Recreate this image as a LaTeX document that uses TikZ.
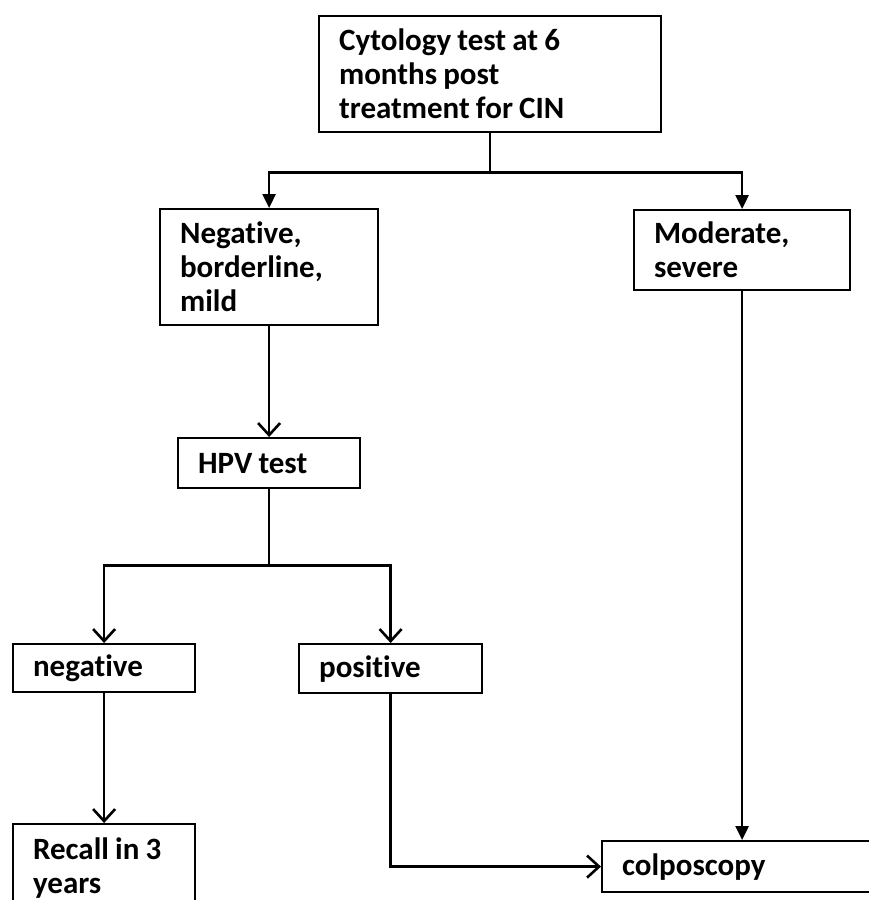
\documentclass[tikz,border=0pt]{standalone}
\usepackage{fontspec}
\setmainfont[Ligatures=NoCommon]{Carlito}
\usetikzlibrary{arrows.meta}

\begin{document}
\begin{tikzpicture}[x=1pt, y=-1pt,
    box/.style={draw, line width=2.2, anchor=north west, align=left,
      inner xsep=20, inner ysep=0, font=\fontsize{31}{34}\selectfont\bfseries,
      execute at begin node={\spaceskip=0.2em\relax}},
    link/.style={line width=2.6},
    fillarrow/.style={line width=2.6, -{Triangle[length=14pt, width=13pt]}},
    openarrow/.style={line width=2.6, -{Straight Barb[length=12pt, width=22pt]}}]
  \useasboundingbox (0, 0) rectangle (868, 900);

  % boxes
  \node[box, text width=302, minimum height=116] (cyto) at (318, 15)
    {Cytology test at 6\\months post\\treatment for CIN};
  \node[box, text width=178, minimum height=116] (mild) at (159, 208)
    {Negative,\\borderline,\\mild};
  \node[box, text width=176, minimum height=80] (severe) at (633, 209)
    {Moderate,\\severe};
  \node[box, text width=142, minimum height=50] (hpv) at (177, 437) {HPV test};
  \node[box, text width=142, minimum height=48] (hpvneg) at (12, 643) {negative};
  \node[box, text width=143, minimum height=49] (hpvpos) at (298, 643) {positive};
  \node[box, text width=142, minimum height=88] (recall) at (12, 823)
    {Recall in 3\\years};
  \node[box, text width=235, minimum height=51] (colpo) at (601, 840) {colposcopy};

  % connectors
  \path (cyto.south) ++(0, 39) coordinate (fork1);
  \path (hpv.south) ++(0, 76) coordinate (fork2);

  \draw[link] (cyto.south) -- (fork1);
  \draw[fillarrow] (fork1) -| (mild.north);
  \draw[fillarrow] (fork1) -| (severe.north);

  \draw[openarrow] (mild.south) -- (hpv.north);
  \draw[link] (hpv.south) -- (fork2);
  \draw[openarrow] (fork2) -| (hpvneg.north);
  \draw[openarrow] (fork2) -| (hpvpos.north);

  \draw[openarrow] (hpvneg.south) -- (recall.north);
  \draw[openarrow] (hpvpos.south) |- (colpo.west);
  \draw[fillarrow] (severe.south) -- (severe.south |- colpo.north);

\end{tikzpicture}
\end{document}
